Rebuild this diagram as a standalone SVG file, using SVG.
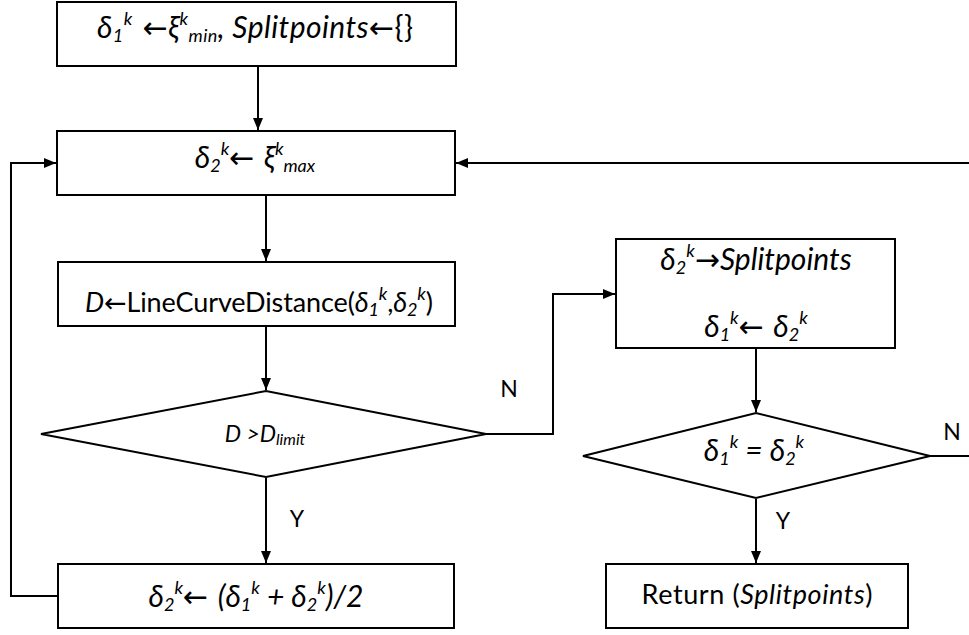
<svg xmlns="http://www.w3.org/2000/svg" width="969" height="635" viewBox="0 0 969 635">
<defs>
<style>
.box{fill:#fff;stroke:#000;stroke-width:2}
.ln{fill:none;stroke:#000;stroke-width:2}
text{font-family:Lato,"Open Sans","Liberation Sans",sans-serif;font-size:27px;fill:#000}
.m{font-size:30px}
.i{font-style:italic}
.s{font-size:18px}
.a{font-family:"DejaVu Sans",sans-serif;font-style:normal;font-size:30px}
.lbl{font-size:23px}
</style>
<marker id="ah" markerWidth="12" markerHeight="10" refX="12" refY="5" orient="auto" markerUnits="userSpaceOnUse">
<path d="M0,0 L12,5 L0,10 Z" fill="#000"/>
</marker>
</defs>
<g id="connectors">
<path class="ln" d="M258,66 V130" marker-end="url(#ah)"/>
<path class="ln" d="M266,195 V261" marker-end="url(#ah)"/>
<path class="ln" d="M266,326 V390" marker-end="url(#ah)"/>
<path class="ln" d="M266,478 V563" marker-end="url(#ah)"/>
<path class="ln" d="M58,596 H11 V163 H56" marker-end="url(#ah)"/>
<path class="ln" d="M486,434 H553 V294 H615" marker-end="url(#ah)"/>
<path class="ln" d="M756,348 V412" marker-end="url(#ah)"/>
<path class="ln" d="M756,499 V563" marker-end="url(#ah)"/>
<path class="ln" d="M930,456 H969"/>
<path class="ln" d="M969,163 H456" marker-end="url(#ah)"/>
<text class="lbl" x="509" y="397" text-anchor="middle">N</text>
<text class="lbl" x="952" y="440" text-anchor="middle">N</text>
<text class="lbl" x="297" y="527" text-anchor="middle">Y</text>
<text class="lbl" x="783" y="529" text-anchor="middle">Y</text>
</g>
<g id="n1">
<rect class="box" x="57" y="2" width="399" height="64"/>
<text class="m" x="255" y="38" text-anchor="middle" textLength="316" lengthAdjust="spacing"><tspan class="i">δ</tspan><tspan class="i s" dy="4">1</tspan><tspan class="i s" dy="-17">k</tspan><tspan class="a" dy="13"> ←</tspan><tspan class="i">ξ</tspan><tspan class="i s" dy="-13">k</tspan><tspan class="i s" dy="17">min</tspan><tspan class="i" dy="-4">, Splitpoints</tspan><tspan class="a">←</tspan><tspan>{}</tspan></text>
</g>
<g id="n2">
<rect class="box" x="57" y="131" width="398" height="64"/>
<text class="m" x="255" y="168" text-anchor="middle"><tspan class="i">δ</tspan><tspan class="i s" dy="4">2</tspan><tspan class="i s" dy="-17">k</tspan><tspan class="a" dy="13">← </tspan><tspan class="i">ξ</tspan><tspan class="i s" dy="-13">k</tspan><tspan class="i s" dy="17">max</tspan></text>
</g>
<g id="n3">
<rect class="box" x="58" y="262" width="397" height="64"/>
<text x="259" y="312" text-anchor="middle" textLength="348" lengthAdjust="spacing"><tspan class="i">D</tspan><tspan class="a" style="font-size:27px">←</tspan><tspan>LineCurveDistance(</tspan><tspan class="i">δ</tspan><tspan class="i s" dy="4">1</tspan><tspan class="i s" dy="-16">k</tspan><tspan dy="12">,</tspan><tspan class="i">δ</tspan><tspan class="i s" dy="4">2</tspan><tspan class="i s" dy="-16">k</tspan><tspan dy="12">)</tspan></text>
</g>
<g id="n4">
<polygon class="box" points="41,434 266,391 486,434 266,477"/>
<text x="265" y="442" text-anchor="middle" style="font-size:23px"><tspan class="i">D &gt;D</tspan><tspan class="i" dy="3" style="font-size:16px">limit</tspan></text>
</g>
<g id="n5">
<rect class="box" x="58" y="564" width="396" height="64"/>
<text class="m" x="256" y="607" text-anchor="middle"><tspan class="i">δ</tspan><tspan class="i s" dy="4">2</tspan><tspan class="i s" dy="-17">k</tspan><tspan class="a" dy="13">← </tspan><tspan class="i">(δ</tspan><tspan class="i s" dy="4">1</tspan><tspan class="i s" dy="-17">k</tspan><tspan class="i" dy="13"> + δ</tspan><tspan class="i s" dy="4">2</tspan><tspan class="i s" dy="-17">k</tspan><tspan class="i" dy="13">)/2</tspan></text>
</g>
<g id="n6">
<rect class="box" x="616" y="239" width="279" height="109"/>
<text class="m" x="756" y="270" text-anchor="middle"><tspan class="i">δ</tspan><tspan class="i s" dy="4">2</tspan><tspan class="i s" dy="-17">k</tspan><tspan class="a" dy="13">→</tspan><tspan class="i">Splitpoints</tspan></text>
<text class="m" x="756" y="337" text-anchor="middle"><tspan class="i">δ</tspan><tspan class="i s" dy="4">1</tspan><tspan class="i s" dy="-17">k</tspan><tspan class="a" dy="13">← </tspan><tspan class="i">δ</tspan><tspan class="i s" dy="4">2</tspan><tspan class="i s" dy="-17">k</tspan></text>
</g>
<g id="n7">
<polygon class="box" points="583,456 756,413 930,456 756,498"/>
<text class="m" x="754" y="461" text-anchor="middle"><tspan class="i">δ</tspan><tspan class="i s" dy="4">1</tspan><tspan class="i s" dy="-17">k</tspan><tspan class="i" dy="13"> = δ</tspan><tspan class="i s" dy="4">2</tspan><tspan class="i s" dy="-17">k</tspan></text>
</g>
<g id="n8">
<rect class="box" x="606" y="564" width="302" height="64"/>
<text x="757" y="604" text-anchor="middle" textLength="231" lengthAdjust="spacing">Return (<tspan class="i">Splitpoints</tspan>)</text>
</g>
</svg>
